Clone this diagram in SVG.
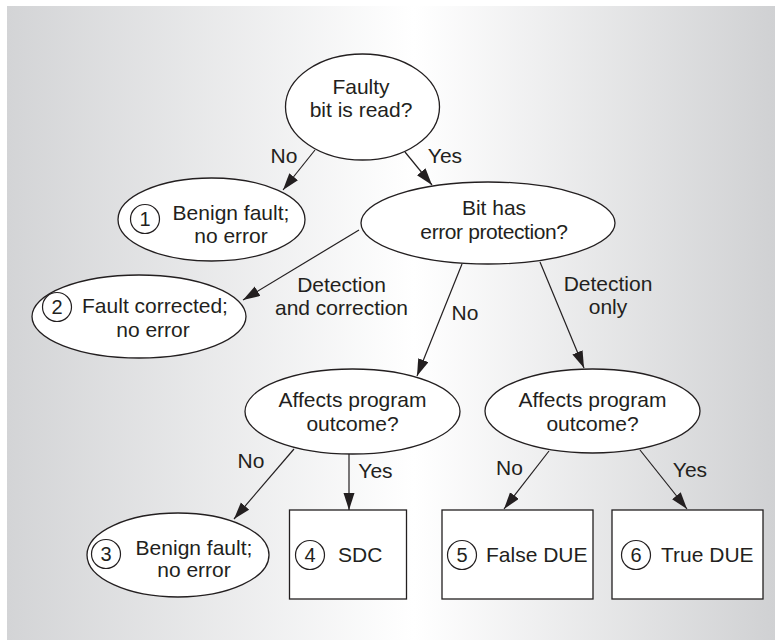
<svg xmlns="http://www.w3.org/2000/svg" width="775" height="641" viewBox="0 0 775 641">
<defs>
<linearGradient id="bg" x1="0" y1="0" x2="1" y2="0">
<stop offset="0" stop-color="#d3d4d6"/>
<stop offset="0.53" stop-color="#ffffff"/>
<stop offset="1" stop-color="#d0d1d3"/>
</linearGradient>
<marker id="ah" markerUnits="userSpaceOnUse" markerWidth="18" markerHeight="12" refX="17" refY="5.5" orient="auto">
<path d="M0,0 L17,5.5 L0,11 z" fill="#231f20"/>
</marker>
<style>
text{font-family:"Liberation Sans",Arial,Helvetica,sans-serif;font-size:21px;fill:#231f20}
.m{text-anchor:middle}
.n{font-size:20px;text-anchor:middle}
.shape{fill:#ffffff;stroke:#231f20;stroke-width:1.3}
.num{fill:none;stroke:#231f20;stroke-width:1.2}
.edge{fill:none;stroke:#231f20;stroke-width:1.2;marker-end:url(#ah)}
</style>
</defs>
<rect x="0" y="0" width="775" height="641" fill="#ffffff"/>
<rect x="7" y="6" width="768" height="634" fill="url(#bg)"/>

<g id="connectors">
<line class="edge" x1="315" y1="150" x2="283" y2="190"/>
<line class="edge" x1="405" y1="152" x2="432" y2="185"/>
<line class="edge" x1="359" y1="230" x2="243" y2="300"/>
<line class="edge" x1="462" y1="264" x2="417" y2="376"/>
<line class="edge" x1="540" y1="262" x2="584" y2="368"/>
<line class="edge" x1="294" y1="449" x2="234" y2="519"/>
<line class="edge" x1="349" y1="454" x2="349" y2="510"/>
<line class="edge" x1="549" y1="451" x2="504" y2="509"/>
<line class="edge" x1="640" y1="450" x2="687" y2="509"/>
<text class="m" x="284" y="163">No</text>
<text class="m" x="445" y="163">Yes</text>
<text class="m" x="341.5" y="292">Detection</text>
<text class="m" x="341.5" y="315">and correction</text>
<text class="m" x="465" y="320">No</text>
<text class="m" x="608" y="291">Detection</text>
<text class="m" x="608" y="314">only</text>
<text class="m" x="251" y="468">No</text>
<text class="m" x="375.5" y="478">Yes</text>
<text class="m" x="509.5" y="475">No</text>
<text class="m" x="690" y="477">Yes</text>
</g>

<g id="faulty">
<ellipse class="shape" cx="362.5" cy="107" rx="77" ry="53"/>
<text class="m" x="361" y="94">Faulty</text>
<text class="m" x="361" y="117">bit is read?</text>
</g>

<g id="benign1">
<ellipse class="shape" cx="211.5" cy="219.5" rx="93.5" ry="41.5"/>
<circle class="num" cx="145" cy="219" r="14.5"/>
<text class="n" x="145" y="226">1</text>
<text class="m" x="231" y="220">Benign fault;</text>
<text class="m" x="231" y="243">no error</text>
</g>

<g id="protection">
<ellipse class="shape" cx="488" cy="223" rx="127" ry="41"/>
<text class="m" x="494" y="215">Bit has</text>
<text class="m" x="494" y="239" letter-spacing="-0.4">error protection?</text>
</g>

<g id="corrected">
<ellipse class="shape" cx="139" cy="316.5" rx="107" ry="41.5"/>
<circle class="num" cx="57" cy="307" r="14.5"/>
<text class="n" x="57" y="314">2</text>
<text class="m" x="155" y="313">Fault corrected;</text>
<text class="m" x="153" y="337">no error</text>
</g>

<g id="affects-left">
<ellipse class="shape" cx="352.5" cy="411.5" rx="107.5" ry="42.5"/>
<text class="m" x="352.5" y="407">Affects program</text>
<text class="m" x="352.5" y="431">outcome?</text>
</g>

<g id="affects-right">
<ellipse class="shape" cx="592.5" cy="411" rx="107.5" ry="42"/>
<text class="m" x="592.5" y="407">Affects program</text>
<text class="m" x="592.5" y="431">outcome?</text>
</g>

<g id="benign3">
<ellipse class="shape" cx="178" cy="555" rx="91" ry="42"/>
<circle class="num" cx="106" cy="554" r="14.5"/>
<text class="n" x="106" y="561">3</text>
<text class="m" x="194" y="555">Benign fault;</text>
<text class="m" x="194" y="577">no error</text>
</g>

<g id="sdc">
<rect class="shape" x="289.5" y="510" width="117" height="89"/>
<circle class="num" cx="310" cy="555" r="14.5"/>
<text class="n" x="310" y="562">4</text>
<text x="338" y="562">SDC</text>
</g>

<g id="false-due">
<rect class="shape" x="442" y="510" width="151" height="89"/>
<circle class="num" cx="462" cy="555" r="14.5"/>
<text class="n" x="462" y="562">5</text>
<text x="486" y="562">False DUE</text>
</g>

<g id="true-due">
<rect class="shape" x="612" y="510" width="151" height="89"/>
<circle class="num" cx="636" cy="555" r="14.5"/>
<text class="n" x="636" y="562">6</text>
<text x="661" y="562">True DUE</text>
</g>
</svg>
